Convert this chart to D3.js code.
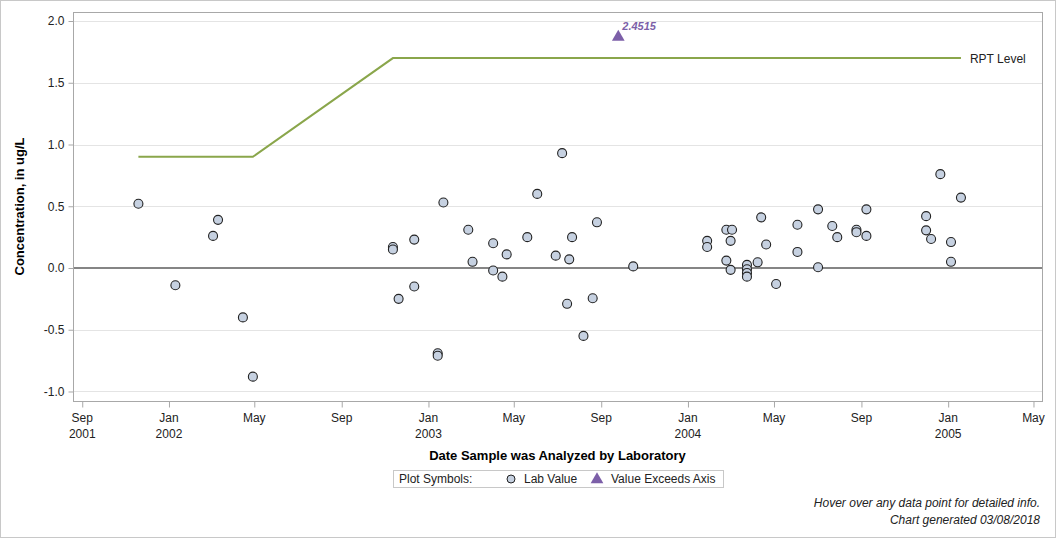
<!DOCTYPE html>
<html>
<head>
<meta charset="utf-8">
<script src="https://cdn.jsdelivr.net/npm/d3@7"></script>
<style>
  body { margin: 0; background: #fff; }
  svg text { font-family: "Liberation Sans", Arial, sans-serif; }
</style>
</head>
<body>
<div id="chart"></div>
<script>
// 1: DATA
const sampleDates = [
  "2001-11-19", "2002-01-10", "2002-03-04", "2002-03-11", "2002-04-15", "2002-04-29",
  "2002-11-12", "2002-11-12", "2002-11-20", "2002-12-12", "2002-12-12",
  "2003-01-14", "2003-01-14", "2003-01-22", "2003-02-26", "2003-03-04",
  "2003-04-02", "2003-04-02", "2003-04-15", "2003-04-21", "2003-05-20", "2003-06-03",
  "2003-06-29", "2003-07-08", "2003-07-15", "2003-07-18", "2003-07-22",
  "2003-08-07", "2003-08-20", "2003-08-26", "2003-10-16",
  "2004-01-28", "2004-01-28", "2004-02-24", "2004-02-24", "2004-03-01", "2004-03-01",
  "2004-03-03", "2004-03-24", "2004-03-24", "2004-03-24", "2004-03-24",
  "2004-04-08", "2004-04-13", "2004-04-20", "2004-05-04", "2004-06-03", "2004-06-03",
  "2004-07-02", "2004-07-02", "2004-07-22", "2004-07-29", "2004-08-25", "2004-08-25",
  "2004-09-08", "2004-09-08", "2004-12-01", "2004-12-01", "2004-12-08", "2004-12-21",
  "2005-01-05", "2005-01-05", "2005-01-19"
];
const labValues = [
  0.52, -0.14, 0.26, 0.39, -0.40, -0.88,
  0.17, 0.15, -0.25, 0.23, -0.15,
  -0.69, -0.71, 0.53, 0.31, 0.05,
  0.20, -0.02, -0.07, 0.11, 0.25, 0.60,
  0.10, 0.93, -0.29, 0.07, 0.25,
  -0.55, -0.245, 0.37, 0.013,
  0.22, 0.17, 0.31, 0.06, 0.22, -0.015,
  0.31, 0.025, -0.01, -0.04, -0.07,
  0.046, 0.41, 0.19, -0.13, 0.35, 0.13,
  0.475, 0.006, 0.34, 0.25, 0.31, 0.29,
  0.475, 0.26, 0.42, 0.305, 0.235, 0.76,
  0.21, 0.05, 0.57
];

// reporting level line
const rptDates = ["2001-11-19", "2002-04-29", "2002-11-12", "2005-01-19"];
const rptValues = [0.9, 0.9, 1.7, 1.7];

// value above the axis
const exceedDates = ["2003-09-25"];
const exceedValues = [2.4515];

const yTicks = [-1.0, -0.5, 0.0, 0.5, 1.0, 1.5, 2.0];

const parseDay = d3.timeParse("%Y-%m-%d");
const points = sampleDates.map((d, i) => ({ date: parseDay(d), value: labValues[i] }));
const rpt = rptDates.map((d, i) => ({ date: parseDay(d), value: rptValues[i] }));
const exceed = exceedDates.map((d, i) => ({ date: parseDay(d), value: exceedValues[i] }));

// 2: SVG + SCALES
const W = 1056, H = 538;
const plot = { left: 73, right: 1042, top: 12, bottom: 401 };

const svg = d3.select("#chart").append("svg")
  .attr("width", W)
  .attr("height", H);

svg.append("rect")
  .attr("x", 0.5).attr("y", 0.5)
  .attr("width", W - 1).attr("height", H - 1)
  .attr("fill", "#fff")
  .attr("stroke", "#c8c8c8");

const x = d3.scaleTime()
  .domain([parseDay("2001-08-19"), parseDay("2005-05-13")])
  .range([plot.left, plot.right]);

const y = d3.scaleLinear()
  .domain([-1.077, 2.073])
  .range([plot.bottom, plot.top]);

// gridlines
svg.append("g")
  .selectAll("line")
  .data(yTicks)
  .enter()
  .append("line")
  .attr("x1", plot.left).attr("x2", plot.right)
  .attr("y1", d => Math.round(y(d)) + 0.5)
  .attr("y2", d => Math.round(y(d)) + 0.5)
  .attr("stroke", "#e4e4e4");

// zero line
svg.append("line")
  .attr("x1", plot.left).attr("x2", plot.right)
  .attr("y1", y(0)).attr("y2", y(0))
  .attr("stroke", "#858585")
  .attr("stroke-width", 2);

// frame
svg.append("rect")
  .attr("x", plot.left + 0.5).attr("y", plot.top + 0.5)
  .attr("width", plot.right - plot.left).attr("height", plot.bottom - plot.top)
  .attr("fill", "none")
  .attr("stroke", "#a8a8a8");

// 3: AXES
const xAxis = svg.append("g")
  .attr("transform", `translate(0,${plot.bottom + 0.5})`)
  .call(d3.axisBottom(x)
    .ticks(d3.timeMonth.every(4))
    .tickSize(6)
    .tickFormat(""));
xAxis.select(".domain").remove();
xAxis.selectAll(".tick line").attr("stroke", "#a8a8a8");

const xTickDates = x.ticks(d3.timeMonth.every(4));
const fmtMonth = d3.timeFormat("%b");
const fmtYear = d3.timeFormat("%Y");
const xLabels = svg.append("g")
  .selectAll("text")
  .data(xTickDates)
  .enter()
  .append("text")
  .attr("x", d => x(d))
  .attr("y", 422)
  .attr("text-anchor", "middle")
  .style("font-size", "12px")
  .attr("fill", "#222");
xLabels.append("tspan")
  .attr("x", d => x(d))
  .text(d => fmtMonth(d));
xLabels.filter((d, i) => i === 0 || d.getMonth() === 0)
  .append("tspan")
  .attr("x", d => x(d))
  .attr("dy", 16)
  .text(d => fmtYear(d));

// plain hyphen for negatives, like the original
const fmtY = v => d3.format(".1f")(v).replace("\u2212", "-");
const yAxis = svg.append("g")
  .attr("transform", `translate(${plot.left + 0.5},0)`)
  .call(d3.axisLeft(y)
    .tickValues(yTicks)
    .tickSize(5)
    .tickFormat(fmtY));
yAxis.select(".domain").remove();
yAxis.selectAll(".tick line").attr("stroke", "#a8a8a8");
yAxis.selectAll(".tick text")
  .style("font-size", "12px")
  .attr("fill", "#222")
  .attr("x", -9);

// axis titles
svg.append("text")
  .attr("x", (plot.left + plot.right) / 2)
  .attr("y", 460)
  .attr("text-anchor", "middle")
  .style("font-size", "13px")
  .style("font-weight", "bold")
  .text("Date Sample was Analyzed by Laboratory");

svg.append("text")
  .attr("transform", "rotate(-90)")
  .attr("x", -(plot.top + plot.bottom) / 2)
  .attr("y", 24)
  .attr("text-anchor", "middle")
  .style("font-size", "13px")
  .style("font-weight", "bold")
  .text("Concentration, in ug/L");

// 4: MARKS
const line = d3.line()
  .x(d => x(d.date))
  .y(d => y(d.value));

svg.append("path")
  .datum(rpt)
  .attr("fill", "none")
  .attr("stroke", "#8aa64b")
  .attr("stroke-width", 2)
  .attr("d", line);

svg.append("text")
  .attr("x", x(rpt[rpt.length - 1].date) + 9)
  .attr("y", y(1.7) + 5)
  .style("font-size", "12px")
  .attr("fill", "#222")
  .text("RPT Level");

svg.append("g")
  .selectAll("circle")
  .data(points)
  .enter()
  .append("circle")
  .attr("cx", d => x(d.date))
  .attr("cy", d => y(d.value))
  .attr("r", 4.5)
  .attr("fill", "#c6d1e1")
  .attr("stroke", "#222")
  .attr("stroke-width", 1.1);

// exceed-axis triangle drawn just under the top of the plot
const triangle = d3.symbol().type(d3.symbolTriangle).size(70);
const exceedY = plot.top + 25;
const ex = svg.append("g")
  .selectAll("g")
  .data(exceed)
  .enter()
  .append("g")
  .attr("transform", d => `translate(${x(d.date)},${exceedY})`);
ex.append("path")
  .attr("d", triangle)
  .attr("fill", "#7c5fa8");
ex.append("text")
  .attr("x", 4)
  .attr("y", -7)
  .style("font-size", "11px")
  .style("font-weight", "bold")
  .style("font-style", "italic")
  .attr("fill", "#7c5fa8")
  .text(d => d.value);

// 5: LEGEND
const legend = svg.append("g");
legend.append("rect")
  .attr("x", 393.5).attr("y", 470.5)
  .attr("width", 330).attr("height", 17)
  .attr("fill", "none")
  .attr("stroke", "#c8c8c8");
legend.append("text")
  .attr("x", 399).attr("y", 483)
  .style("font-size", "12px")
  .attr("fill", "#222")
  .text("Plot Symbols:");
legend.append("circle")
  .attr("cx", 511).attr("cy", 479)
  .attr("r", 4)
  .attr("fill", "#c6d1e1")
  .attr("stroke", "#222");
legend.append("text")
  .attr("x", 524).attr("y", 483)
  .style("font-size", "12px")
  .attr("fill", "#222")
  .text("Lab Value");
legend.append("path")
  .attr("transform", "translate(597,479.5)")
  .attr("d", triangle)
  .attr("fill", "#7c5fa8");
legend.append("text")
  .attr("x", 611).attr("y", 483)
  .style("font-size", "12px")
  .attr("fill", "#222")
  .text("Value Exceeds Axis");

// footer notes
svg.append("text")
  .attr("x", 1040).attr("y", 507)
  .attr("text-anchor", "end")
  .style("font-size", "12px")
  .style("font-style", "italic")
  .attr("fill", "#222")
  .text("Hover over any data point for detailed info.");
svg.append("text")
  .attr("x", 1040).attr("y", 524)
  .attr("text-anchor", "end")
  .style("font-size", "12px")
  .style("font-style", "italic")
  .attr("fill", "#222")
  .text("Chart generated 03/08/2018");
</script>
</body>
</html>
